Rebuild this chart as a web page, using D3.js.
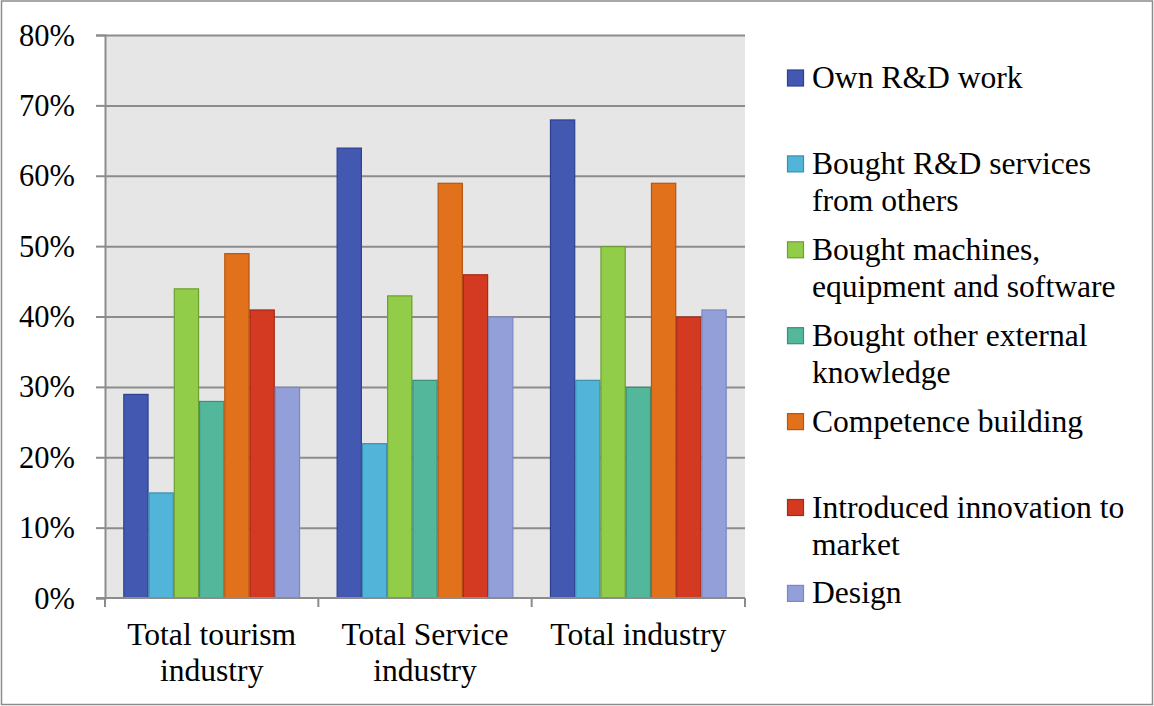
<!DOCTYPE html>
<html>
<head>
<meta charset="utf-8">
<script src="https://cdn.jsdelivr.net/npm/d3@7"></script>
<style>
  html, body { margin: 0; padding: 0; background: #ffffff; }
  svg { display: block; }
</style>
</head>
<body>
<svg id="chart" width="1154" height="706" font-family="Liberation Serif"></svg>
<script>
// Groups on the x axis
const categories = ["Total tourism industry", "Total Service industry", "Total industry"];

// Innovation activity types (one bar per group for each)
const seriesNames = [
  "Own R&D work",
  "Bought R&D services from others",
  "Bought machines, equipment and software",
  "Bought other external knowledge",
  "Competence building",
  "Introduced innovation to market",
  "Design"
];

// Share of firms, per series, in category order
const ownRD        = [0.29, 0.64, 0.68];
const boughtRD     = [0.15, 0.22, 0.31];
const machines     = [0.44, 0.43, 0.50];
const otherKnow    = [0.28, 0.31, 0.30];
const competence   = [0.49, 0.59, 0.59];
const introduced   = [0.41, 0.46, 0.40];
const design       = [0.30, 0.40, 0.41];

const yTicks = [0, 0.1, 0.2, 0.3, 0.4, 0.5, 0.6, 0.7, 0.8];

const seriesValues = [ownRD, boughtRD, machines, otherKnow, competence, introduced, design];

const fills   = ["#4358b0", "#52b4d8", "#92cd49", "#52b79b", "#e2711c", "#d43a22", "#929fd8"];
const strokes = ["#2e4190", "#3a8fb1", "#6e9e32", "#3a8f77", "#b55615", "#a52a18", "#7c88c2"];

const FONT = "Liberation Serif";

const svg = d3.select("#chart");
const W = 1154, H = 706;
const plot = { left: 105, right: 745, top: 35, bottom: 598 };
const gridColor = "#8c8c8c";
const tickFont = 30.5;
const labelFont = 31.6;

// Outer frame
svg.append("rect")
  .attr("x", 1.5).attr("y", 1).attr("width", W - 3).attr("height", H - 2.5)
  .attr("fill", "#fff").attr("stroke", gridColor).attr("stroke-width", 1.5);

// Plot background
svg.append("rect")
  .attr("x", plot.left).attr("y", plot.top)
  .attr("width", plot.right - plot.left).attr("height", plot.bottom - plot.top)
  .attr("fill", "#e6e6e6");

const x0 = d3.scaleBand().domain(categories).range([plot.left, plot.right]).padding(0);
const gw = x0.bandwidth();
const x1 = d3.scaleBand().domain(d3.range(seriesNames.length))
  .range([18.3, gw - 18.3]).padding(0);
const y = d3.scaleLinear().domain([0, 0.8]).range([plot.bottom, plot.top]);

// Horizontal gridlines
const grid = svg.append("g")
  .attr("transform", `translate(${plot.left},0)`)
  .call(d3.axisLeft(y).tickValues(yTicks.slice(1)).tickSize(-(plot.right - plot.left)).tickFormat(""));
grid.select(".domain").remove();
grid.selectAll("line").attr("stroke", gridColor).attr("stroke-width", 2);

// Bars
const rows = [];
seriesValues.forEach((vals, s) => {
  vals.forEach((v, c) => rows.push({ s, c, v }));
});
svg.append("g").selectAll("rect")
  .data(rows)
  .join("rect")
  .attr("x", d => x0(categories[d.c]) + x1(d.s) + 0.5)
  .attr("y", d => y(d.v) + 0.5)
  .attr("width", x1.bandwidth() - 1)
  .attr("height", d => y(0) - y(d.v) - 0.5)
  .attr("fill", d => fills[d.s])
  .attr("stroke", d => strokes[d.s])
  .attr("stroke-width", 1.2);

// Y axis
const yAxis = svg.append("g")
  .attr("transform", `translate(${plot.left},0)`)
  .call(d3.axisLeft(y).tickValues(yTicks).tickSize(9).tickPadding(21).tickFormat(d3.format(".0%")))
  .attr("font-family", FONT)
  .attr("font-size", tickFont);
yAxis.select(".domain").attr("stroke", gridColor).attr("stroke-width", 2);
yAxis.selectAll(".tick line").attr("stroke", gridColor).attr("stroke-width", 2);
yAxis.selectAll(".tick text")
  .attr("font-family", FONT)
  .attr("font-size", tickFont)
  .attr("fill", "#000").attr("dy", "0.33em");

// X axis: baseline plus ticks at group boundaries
const xAxis = svg.append("g");
xAxis.append("line")
  .attr("x1", plot.left - 9).attr("x2", plot.right)
  .attr("y1", plot.bottom).attr("y2", plot.bottom)
  .attr("stroke", gridColor).attr("stroke-width", 2);
const bounds = categories.map(c => x0(c)).concat([x0(categories[categories.length - 1]) + gw]);
xAxis.selectAll(".xt").data(bounds).join("line")
  .attr("x1", d => d).attr("x2", d => d)
  .attr("y1", plot.bottom).attr("y2", plot.bottom + 9)
  .attr("stroke", gridColor).attr("stroke-width", 2);

// Word wrapping into tspans
function wrap(textSel, maxWidth, lineHeight) {
  textSel.each(function() {
    const t = d3.select(this);
    const words = t.text().split(/\s+/);
    const x = t.attr("x");
    t.text(null);
    let line = [];
    let ts = t.append("tspan").attr("x", x).attr("dy", 0);
    words.forEach(w => {
      line.push(w);
      ts.text(line.join(" "));
      if (ts.node().getComputedTextLength() > maxWidth && line.length > 1) {
        line.pop();
        ts.text(line.join(" "));
        line = [w];
        ts = t.append("tspan").attr("x", x).attr("dy", lineHeight).text(w);
      }
    });
  });
}

// Category labels
svg.append("g").selectAll("text")
  .data(categories)
  .join("text")
  .attr("x", d => x0(d) + gw / 2)
  .attr("y", 645)
  .attr("text-anchor", "middle")
  .attr("font-family", FONT)
  .attr("font-size", labelFont)
  .attr("fill", "#000")
  .text(d => d)
  .call(wrap, gw - 8, 35.5);

// Legend
const legend = svg.append("g");
const legendTop = 88, legendStep = 85.9;
const items = legend.selectAll("g")
  .data(seriesNames)
  .join("g")
  .attr("transform", (d, i) => `translate(0,${legendTop + i * legendStep})`);
items.append("rect")
  .attr("x", 787.5).attr("y", -18).attr("width", 16).attr("height", 16)
  .attr("fill", (d, i) => fills[i])
  .attr("stroke", (d, i) => strokes[i]).attr("stroke-width", 1.2);
items.append("text")
  .attr("x", 812).attr("y", 0)
  .attr("font-family", FONT)
  .attr("font-size", labelFont)
  .attr("fill", "#000")
  .text(d => d)
  .call(wrap, 330, 37);
</script>
</body>
</html>
